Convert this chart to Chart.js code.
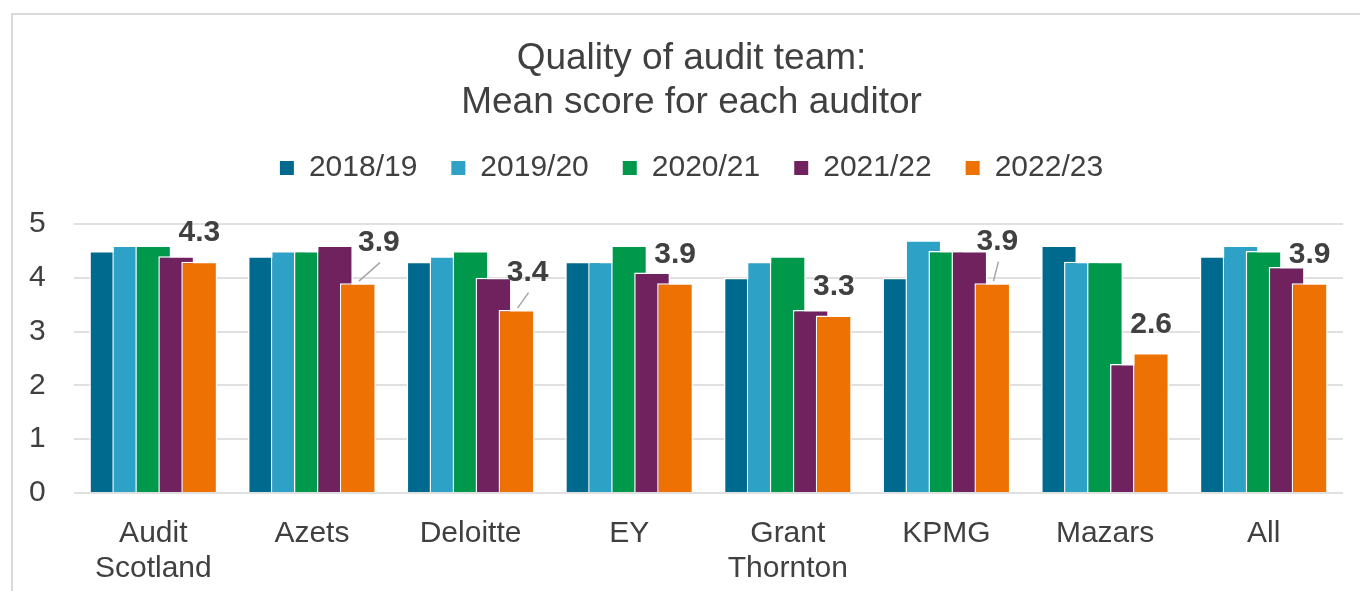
<!DOCTYPE html>
<html><head><meta charset="utf-8">
<script src="https://cdn.jsdelivr.net/npm/chart.js@4.4.1/dist/chart.umd.min.js"></script>
<style>
html,body{margin:0;padding:0;background:#fff;overflow:hidden;width:1360px;height:591px;position:relative}
#frame{position:absolute;left:11px;top:13px;width:1400px;height:600px;border-left:2px solid #d9d9d9;border-top:2px solid #d9d9d9}
canvas{position:absolute;left:0;top:0}
</style></head><body>
<div id="frame"><canvas id="c" width="1364" height="576"></canvas></div>
<script>
// ---- data ----
const categories = [['Audit','Scotland'],'Azets','Deloitte','EY',['Grant','Thornton'],'KPMG','Mazars','All'];
const seriesNames = ['2018/19','2019/20','2020/21','2021/22','2022/23'];
const s2018_19 = [4.5,4.4,4.3,4.3,4.0,4.0,4.6,4.4];
const s2019_20 = [4.6,4.5,4.4,4.3,4.3,4.7,4.3,4.6];
const s2020_21 = [4.6,4.5,4.5,4.6,4.4,4.5,4.3,4.5];
const s2021_22 = [4.4,4.6,4.0,4.1,3.4,4.5,2.4,4.2];
const s2022_23 = [4.3,3.9,3.4,3.9,3.3,3.9,2.6,3.9];
const yTicks = [0,1,2,3,4,5];

// ---- style ----
const colors = ['#006A8E','#2DA2C6','#00984A','#70225F','#EE7203'];
const FONT = '"Liberation Sans", Arial, Helvetica, sans-serif';
const TEXT = '#404040';
const labelNudges = {1:[21,-12], 2:[11,-9], 5:[5,-13]}; // annotation offsets (px)

Chart.defaults.font.family = FONT;
Chart.defaults.color = TEXT;

const seriesData = [s2018_19, s2019_20, s2020_21, s2021_22, s2022_23];

const drawInOrder = {
  id: 'drawInOrder',
  beforeDatasetsDraw(chart) {
    const metas = chart.getSortedVisibleDatasetMetas().slice().sort((a,b)=>a.index-b.index);
    for (const m of metas) m.controller.draw();
    return false;
  }
};
const legendGap = {
  id: 'legendGap',
  beforeLayout(chart) {
    const lg = chart.legend;
    if (lg && !lg._patched) {
      const fit = lg.fit;
      lg.fit = function(){ fit.call(this); this.height += 31; };
      lg._patched = true;
    }
  }
};
const dataLabels = {
  id: 'dataLabels',
  afterDraw(chart) {
    const meta = chart.getDatasetMeta(4);
    const vals = chart.data.datasets[4].data;
    const ctx = chart.ctx;
    ctx.save();
    ctx.font = 'bold 30px ' + FONT;
    ctx.fillStyle = TEXT;
    ctx.textAlign = 'center';
    ctx.textBaseline = 'middle';
    meta.data.forEach((el, i) => {
      const n = labelNudges[i];
      const dx = n ? n[0] : 0, dy = n ? n[1] : 0;
      const lx = el.x + dx, ly = el.y - 28.5 + dy;
      if (n) {
        ctx.strokeStyle = '#a6a6a6';
        ctx.lineWidth = 1.5;
        ctx.beginPath();
        ctx.moveTo(lx + 1, ly + 20);
        ctx.lineTo(el.x + 1, el.y - 2);
        ctx.stroke();
      }
      ctx.fillText(vals[i].toFixed(1), lx, ly);
    });
    ctx.restore();
  }
};

new Chart(document.getElementById('c'), {
  type: 'bar',
  data: {
    labels: categories,
    datasets: seriesNames.map((name, i) => ({
      label: name,
      data: seriesData[i],
      backgroundColor: colors[i],
      borderColor: '#ffffff',
      borderWidth: 1.5,
      categoryPercentage: 0.725,
      barPercentage: 1.565
    }))
  },
  options: {
    responsive: false,
    animation: false,
    events: [],
    layout: { padding: { left: 27, right: 34, top: 0, bottom: 0 } },
    plugins: {
      title: {
        display: true,
        text: ['Quality of audit team:', 'Mean score for each auditor'],
        color: TEXT,
        font: { size: 37, weight: 'normal', lineHeight: 44/37 },
        padding: { top: 22, bottom: -6 }
      },
      legend: {
        display: true,
        position: 'top',
        labels: {
          color: TEXT,
          font: { size: 30 },
          boxWidth: 14,
          boxHeight: 14,
          padding: 34,
          generateLabels(chart) {
            return Chart.defaults.plugins.legend.labels.generateLabels(chart)
              .map(l => Object.assign(l, { lineWidth: 0, strokeStyle: l.fillStyle }));
          }
        }
      },
      tooltip: { enabled: false }
    },
    scales: {
      x: {
        grid: { display: false, drawTicks: false },
        border: { display: false },
        afterFit(scale) { scale.height = 98; },
        ticks: { color: TEXT, font: { size: 30, lineHeight: 35/30 }, padding: 23.5, maxRotation: 0, autoSkip: false }
      },
      y: {
        min: 0, max: 5,
        afterBuildTicks(scale) { scale.ticks = yTicks.map(v => ({ value: v })); },
        afterFit(scale) { scale.width = 34; },
        grid: { color: '#e0e0e0', lineWidth: 2, drawTicks: false },
        border: { display: false },
        ticks: { color: TEXT, font: { size: 30 }, mirror: true, padding: -45 }
      }
    }
  },
  plugins: [drawInOrder, legendGap, dataLabels]
});
</script>
</body></html>
